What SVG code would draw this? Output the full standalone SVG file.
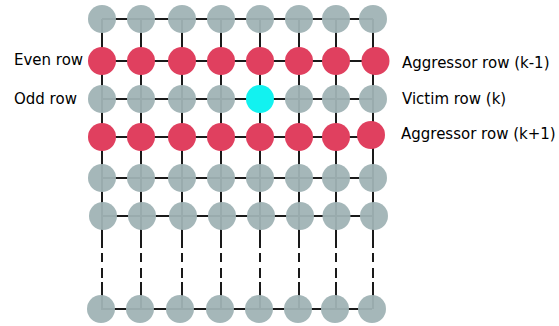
<svg xmlns="http://www.w3.org/2000/svg" width="559" height="326" viewBox="0 0 559 326">
<style>
.ln{stroke:#1a1a1a;stroke-width:2;fill:none}
.g{fill:#a0b3b5;fill-opacity:0.95}
.r{fill:#e0405f}
.c{fill:#12f2f0}
.t{font-family:"DejaVu Sans",sans-serif;font-size:15px;fill:#000}
</style>
<rect width="559" height="326" fill="#fff"/>
<g id="connectors">
<path class="ln" d="M102,19H373M102,61H375M102,99H373M102,137H371M102,178H373M103,216H374M101,309H372"/>
<path class="ln" d="M102,19V248M102,253V262M102,268V278M102,282V309
M141,19V248M141,253V262M141,268V278M141,282V309
M182,19V248M182,253V262M182,268V278M182,282V309
M221,19V248M221,253V262M221,268V278M221,282V309
M260,19V248M260,253V262M260,268V278M260,282V309
M299,19V248M299,253V262M299,268V278M299,282V309
M336,19V248M336,253V262M336,268V278M336,282V309
M373,19V248M373,253V262M373,268V278M373,282V309"/>
</g>
<g id="row1">
<circle class="g" cx="102" cy="19" r="14"/><circle class="g" cx="141" cy="19" r="14"/><circle class="g" cx="182" cy="19" r="14"/><circle class="g" cx="221" cy="19" r="14"/><circle class="g" cx="260" cy="19" r="14"/><circle class="g" cx="299" cy="19" r="14"/><circle class="g" cx="336" cy="19" r="14"/><circle class="g" cx="373" cy="19" r="14"/>
</g>
<g id="row2">
<circle class="r" cx="102" cy="61" r="14"/><circle class="r" cx="141" cy="61" r="14"/><circle class="r" cx="182" cy="61" r="14"/><circle class="r" cx="221" cy="61" r="14"/><circle class="r" cx="260" cy="61" r="14"/><circle class="r" cx="299" cy="61" r="14"/><circle class="r" cx="336" cy="61" r="14"/><circle class="r" cx="375.5" cy="61" r="14"/>
</g>
<g id="row3">
<circle class="g" cx="102" cy="99" r="14"/><circle class="g" cx="141" cy="99" r="14"/><circle class="g" cx="182" cy="99" r="14"/><circle class="g" cx="221" cy="99" r="14"/><circle class="c" cx="260" cy="99" r="14"/><circle class="g" cx="299" cy="99" r="14"/><circle class="g" cx="336" cy="99" r="14"/><circle class="g" cx="373" cy="99" r="14"/>
</g>
<g id="row4">
<circle class="r" cx="102" cy="137" r="14"/><circle class="r" cx="141" cy="137" r="14"/><circle class="r" cx="182" cy="137" r="14"/><circle class="r" cx="221" cy="137" r="14"/><circle class="r" cx="260" cy="137" r="14"/><circle class="r" cx="299" cy="137" r="14"/><circle class="r" cx="336" cy="137" r="14"/><circle class="r" cx="371" cy="135" r="14"/>
</g>
<g id="row5">
<circle class="g" cx="102" cy="178" r="14"/><circle class="g" cx="141" cy="178" r="14"/><circle class="g" cx="182" cy="178" r="14"/><circle class="g" cx="221" cy="178" r="14"/><circle class="g" cx="260" cy="178" r="14"/><circle class="g" cx="299" cy="178" r="14"/><circle class="g" cx="336" cy="178" r="14"/><circle class="g" cx="373" cy="178" r="14"/>
</g>
<g id="row6">
<circle class="g" cx="103" cy="216" r="14"/><circle class="g" cx="142" cy="216" r="14"/><circle class="g" cx="183" cy="216" r="14"/><circle class="g" cx="222" cy="216" r="14"/><circle class="g" cx="261" cy="216" r="14"/><circle class="g" cx="300" cy="216" r="14"/><circle class="g" cx="336.5" cy="216" r="14"/><circle class="g" cx="374" cy="216" r="14"/>
</g>
<g id="row7">
<circle class="g" cx="101" cy="309" r="14"/><circle class="g" cx="140" cy="309" r="14"/><circle class="g" cx="180" cy="309" r="14"/><circle class="g" cx="220" cy="309" r="14"/><circle class="g" cx="259" cy="309" r="14"/><circle class="g" cx="298" cy="309" r="14"/><circle class="g" cx="335" cy="309" r="14"/><circle class="g" cx="372" cy="309" r="14"/>
</g>
<g id="labels">
<text class="t" x="14" y="65">Even row</text>
<text class="t" x="14" y="104">Odd row</text>
<text class="t" x="402" y="68">Aggressor row (k-1)</text>
<text class="t" x="402" y="104">Victim row (k)</text>
<text class="t" x="401" y="139">Aggressor row (k+1)</text>
</g>
</svg>
